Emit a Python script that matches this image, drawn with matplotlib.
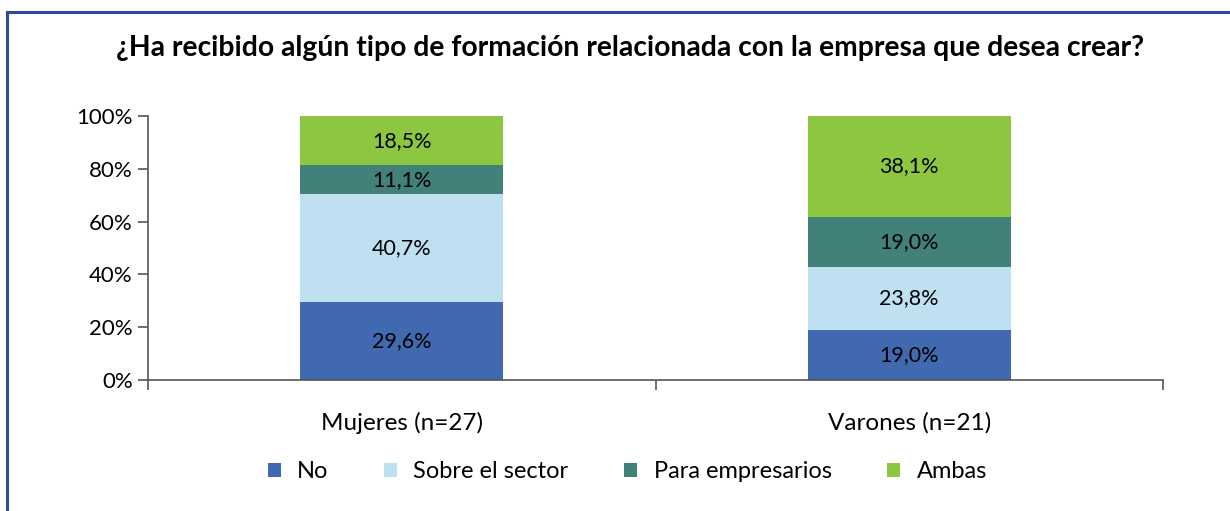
import matplotlib.pyplot as plt
from matplotlib.patches import Rectangle

groups = ["Mujeres (n=27)", "Varones (n=21)"]
series = ["No", "Sobre el sector", "Para empresarios", "Ambas"]
no_vals = [29.6, 19.0]
sector_vals = [40.7, 23.8]
empresarios_vals = [11.1, 19.0]
ambas_vals = [18.5, 38.1]
colors = ["#4169B0", "#BEE0F1", "#42807A", "#8DC63F"]

plt.rcParams['font.family'] = ['Lato', 'DejaVu Sans']

fig = plt.figure(figsize=(12.3, 5.11), dpi=100)
ax = fig.add_axes([148/1230, 1-380/511, (1163-148)/1230, (380-116)/511])

x = list(range(len(groups)))
bottom = [0.0]*len(groups)
for name, vals, col in zip(series, [no_vals, sector_vals, empresarios_vals, ambas_vals], colors):
    ax.bar(x, vals, width=0.4, bottom=bottom, color=col, label=name, zorder=2)
    for i, v in enumerate(vals):
        ax.text(x[i], bottom[i]+v/2, ("%.1f%%" % v).replace(".", ","),
                ha='center', va='center', fontsize=15.5, color='black', zorder=3)
    bottom = [b+v for b, v in zip(bottom, vals)]

ax.set_xlim(-0.5, 1.5)
ax.set_ylim(0, 100)
ax.set_yticks([0, 20, 40, 60, 80, 100])
ax.set_yticklabels(["%d%%" % t for t in [0, 20, 40, 60, 80, 100]], fontsize=16)
ax.set_xticks(x)
ax.set_xticklabels(groups, fontsize=17.5)
ax.set_xticks([-0.5, 0.5, 1.5], minor=True)
ax.tick_params(axis='x', which='major', length=0, pad=23)
ax.tick_params(axis='x', which='minor', length=7, width=1.2, color='#555555')
ax.tick_params(axis='y', length=7, width=1.2, color='#555555', pad=4)
for s in ['top', 'right']:
    ax.spines[s].set_visible(False)
for s in ['left', 'bottom']:
    ax.spines[s].set_color('#555555')
    ax.spines[s].set_linewidth(1.2)

leg = fig.legend(loc='center', bbox_to_anchor=(0.51, 1-472/511), ncol=4, frameon=False,
                 fontsize=17, handlelength=0.55, handleheight=0.55, columnspacing=2.35, handletextpad=0.7)

fig.text(0.512, 1-48/511, "¿Ha recibido algún tipo de formación relacionada con la empresa que desea crear?",
         ha='center', va='center', fontsize=20.3, fontweight='bold')

# marco azul
fig.patches.append(Rectangle((7/1230, -0.1), 1.2, 1-12/511+0.1, transform=fig.transFigure,
                             fill=False, edgecolor='#2E4A9C', linewidth=2.2))

fig.savefig("out.png", dpi=100)
